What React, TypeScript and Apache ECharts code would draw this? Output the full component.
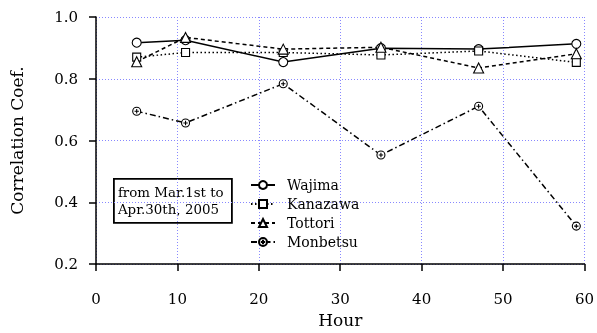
import React, { useEffect, useRef } from "react";
import * as echarts from "echarts";

const hours = [5, 11, 23, 35, 47, 59];
const wajima = [0.917, 0.925, 0.854, 0.899, 0.896, 0.913];
const kanazawa = [0.870, 0.885, 0.885, 0.877, 0.890, 0.853];
const tottori = [0.855, 0.934, 0.896, 0.902, 0.835, 0.881];
const monbetsu = [0.695, 0.657, 0.784, 0.553, 0.711, 0.323];
const xTicks = [0, 10, 20, 30, 40, 50, 60];
const yTicks = [0.2, 0.4, 0.6, 0.8, 1.0];
const note = ["from Mar.1st to", "Apr.30th, 2005"];

const FONT = "'DejaVu Serif', serif";
const circlePlus =
  "path://M0,-10A10,10,0,1,1,0,10A10,10,0,1,1,0,-10Z M-5.5,0L5.5,0 M0,-5.5L0,5.5";

function pairs(vals: number[]) {
  return hours.map((h, i) => [h, vals[i]]);
}

export default function App() {
  const ref = useRef<HTMLDivElement>(null);
  useEffect(() => {
    if (!ref.current) return;
    const chart = echarts.init(ref.current, null, { renderer: "svg" });
    const mk = (name: string, vals: number[], symbol: string, size: number, type: any) => ({
      name,
      type: "line",
      data: pairs(vals),
      symbol,
      symbolSize: size,
      showSymbol: true,
      lineStyle: { color: "#000", width: 1.5, type },
      itemStyle: { color: "#fff", borderColor: "#000", borderWidth: 1.1 },
      z: 3,
    });
    chart.setOption({
      animation: false,
      textStyle: { fontFamily: FONT },
      grid: { left: 95, right: 11, top: 17, bottom: 68, containLabel: false },
      xAxis: {
        type: "value",
        min: 0,
        max: 60,
        interval: 10,
        name: "Hour",
        nameLocation: "middle",
        nameGap: 46,
        nameTextStyle: { fontFamily: FONT, fontSize: 17, color: "#000" },
        axisLine: { show: true, onZero: false, lineStyle: { color: "#000", width: 1.5 } },
        axisTick: { show: true, inside: false, length: 7, lineStyle: { color: "#000", width: 1.5 } },
        axisLabel: {
          color: "#000",
          fontFamily: FONT,
          fontSize: 15,
          margin: 27,
          formatter: (v: number) => (xTicks.includes(v) ? String(v) : ""),
        },
        splitLine: { show: true, lineStyle: { color: "#8888ff", type: [1, 2], width: 1 } },
      },
      yAxis: {
        type: "value",
        min: 0.2,
        max: 1.0,
        interval: 0.2,
        name: "Correlation Coef.",
        nameLocation: "middle",
        nameGap: 71,
        nameTextStyle: { fontFamily: FONT, fontSize: 17, color: "#000" },
        axisLine: { show: true, onZero: false, lineStyle: { color: "#000", width: 1.5 } },
        axisTick: { show: true, inside: false, length: 7, lineStyle: { color: "#000", width: 1.5 } },
        axisLabel: {
          color: "#000",
          fontFamily: FONT,
          fontSize: 15,
          margin: 18,
          formatter: (v: number) => {
            const t = yTicks.find((y) => Math.abs(y - v) < 1e-6);
            return t !== undefined ? t.toFixed(1) : "";
          },
        },
        splitLine: {
          show: true,
          lineStyle: { color: "#8888ff", type: [1, 2], width: 1 },
        },
      },
      legend: {
        orient: "vertical",
        left: 250,
        top: 178,
        padding: 0,
        itemWidth: 24,
        itemHeight: 10,
        itemGap: 5,
        textStyle: { fontFamily: FONT, fontSize: 14, color: "#000", padding: [0, 0, 0, 7] },
        data: ["Wajima", "Kanazawa", "Tottori", "Monbetsu"],
      },
      graphic: [
        {
          type: "group",
          left: 113,
          top: 178,
          z: 10,
          children: [
            {
              type: "rect",
              shape: { x: 0, y: 0, width: 118, height: 44 },
              style: { fill: "#fff", stroke: "#000", lineWidth: 1.8 },
            },
            {
              type: "text",
              x: 4,
              y: 5,
              style: {
                text: note.join("\n"),
                font: `13.4px 'DejaVu Serif', serif`,
                fill: "#000",
                lineHeight: 17,
              },
            },
          ],
        },
      ],
      series: [
        mk("Wajima", wajima, "circle", 9, "solid"),
        mk("Kanazawa", kanazawa, "rect", 8, [1.5, 2.5]),
        mk("Tottori", tottori, "triangle", 10, [4, 3]),
        mk("Monbetsu", monbetsu, circlePlus, 8, [6, 3, 1.5, 3]),
      ],
    });
    return () => chart.dispose();
  }, []);
  return (
    <div
      ref={ref}
      style={{ position: "fixed", left: 0, top: 0, width: 597, height: 333 }}
    />
  );
}
